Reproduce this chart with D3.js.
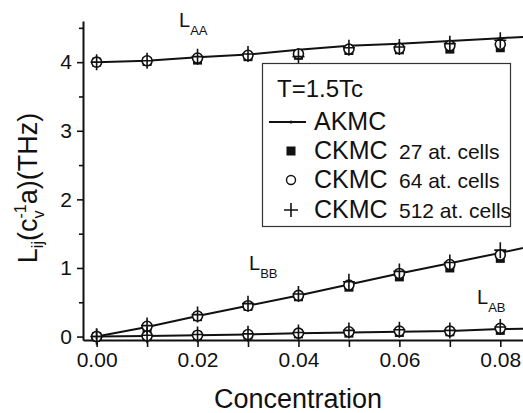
<!DOCTYPE html>
<html>
<head>
<meta charset="utf-8">
<script src="https://cdn.jsdelivr.net/npm/d3@7"></script>
<style>
  html, body { margin: 0; padding: 0; background: #fff; }
  svg { display: block; }
  text { font-family: "Liberation Sans", Arial, sans-serif; fill: #111; }
</style>
</head>
<body>
<svg id="chart" width="523" height="413"></svg>
<script>
// Vacancy concentration (x values)
const concentration = [0.00, 0.01, 0.02, 0.03, 0.04, 0.05, 0.06, 0.07, 0.08];
// AKMC curve runs one step further and is cut by the plot edge
const concentrationAkmc = [0.00, 0.01, 0.02, 0.03, 0.04, 0.05, 0.06, 0.07, 0.08, 0.09];

// L_AA
const laaAkmc   = [4.00, 4.02, 4.07, 4.11, 4.18, 4.24, 4.27, 4.31, 4.35, 4.39];
const laaCkmc27 = [4.00, 4.01, 4.03, 4.08, 4.10, 4.17, 4.18, 4.19, 4.21];
const laaCkmc64 = [4.00, 4.02, 4.06, 4.10, 4.12, 4.19, 4.20, 4.24, 4.26];
const laaCkmc512= [4.00, 4.02, 4.08, 4.12, 4.08, 4.21, 4.22, 4.27, 4.32];

// L_BB
const lbbAkmc   = [0.00, 0.14, 0.30, 0.45, 0.60, 0.76, 0.92, 1.07, 1.22, 1.38];
const lbbCkmc27 = [0.00, 0.13, 0.29, 0.44, 0.58, 0.72, 0.87, 1.00, 1.14];
const lbbCkmc64 = [0.00, 0.15, 0.30, 0.45, 0.60, 0.75, 0.92, 1.05, 1.19];
const lbbCkmc512= [0.00, 0.16, 0.32, 0.48, 0.62, 0.80, 0.95, 1.08, 1.26];

// L_AB
const labAkmc   = [0.00, 0.01, 0.02, 0.03, 0.05, 0.06, 0.07, 0.08, 0.11, 0.12];
const labCkmc27 = [0.00, 0.00, 0.01, 0.02, 0.04, 0.05, 0.06, 0.07, 0.09];
const labCkmc64 = [0.00, 0.01, 0.02, 0.03, 0.05, 0.07, 0.08, 0.08, 0.12];
const labCkmc512= [0.00, 0.02, 0.03, 0.04, 0.06, 0.09, 0.10, 0.09, 0.14];

const xTicks = [0.00, 0.01, 0.02, 0.03, 0.04, 0.05, 0.06, 0.07, 0.08];
const xTickLabels = ["0.00", "", "0.02", "", "0.04", "", "0.06", "", "0.08"];
const yTicks = [0, 0.5, 1, 1.5, 2, 2.5, 3, 3.5, 4, 4.5];
const yTickLabels = ["0", "", "1", "", "2", "", "3", "", "4", ""];

const legendTitle = "T=1.5Tc";
const legendEntries = [
  { name: "AKMC", extra: "", kind: "line" },
  { name: "CKMC", extra: "27 at. cells", kind: "square" },
  { name: "CKMC", extra: "64 at. cells", kind: "circle" },
  { name: "CKMC", extra: "512 at. cells", kind: "plus" }
];

const svg = d3.select("#chart");

const x = d3.scaleLinear().domain([-0.0027, 0.0845]).range([83, 523]);
const y = d3.scaleLinear().domain([-0.05, 4.6]).range([340, 21]);

const ink = "#111";

// ----- axes -----
const xAxis = d3.axisBottom(x)
  .tickValues(xTicks)
  .tickSize(7)
  .tickSizeOuter(0)
  .tickFormat((d, i) => xTickLabels[i]);

const gx = svg.append("g")
  .attr("transform", `translate(0,${y(-0.05)})`)
  .call(xAxis);
gx.select(".domain").attr("stroke", ink).attr("stroke-width", 2);
gx.selectAll(".tick line").attr("stroke", ink).attr("stroke-width", 1.6);
gx.selectAll(".tick text")
  .attr("y", 12)
  .attr("font-size", 21)
  .attr("font-family", "Liberation Sans, Arial, sans-serif")
  .attr("fill", ink);

const yAxis = d3.axisLeft(y)
  .tickValues(yTicks)
  .tickSize(6)
  .tickSizeOuter(0)
  .tickFormat((d, i) => yTickLabels[i]);

const gy = svg.append("g")
  .attr("transform", `translate(${x(-0.0027)},0)`)
  .call(yAxis);
gy.select(".domain").attr("stroke", ink).attr("stroke-width", 2);
gy.selectAll(".tick line")
  .attr("stroke", ink).attr("stroke-width", 1.6)
  .attr("x2", d => Number.isInteger(d) ? -6 : -4);
gy.selectAll(".tick text")
  .attr("x", -11)
  .attr("font-size", 21)
  .attr("font-family", "Liberation Sans, Arial, sans-serif")
  .attr("fill", ink);

// ----- axis titles -----
svg.append("text")
  .attr("x", 298).attr("y", 408)
  .attr("text-anchor", "middle")
  .attr("font-size", 27)
  .text("Concentration");

const yTitle = svg.append("text")
  .attr("transform", "translate(37,188) rotate(-90)")
  .attr("text-anchor", "middle")
  .attr("font-size", 27);
yTitle.append("tspan").text("L");
yTitle.append("tspan").attr("font-size", 16).attr("dy", 6).text("ij");
yTitle.append("tspan").attr("dy", -6).text("(c");
yTitle.append("tspan").attr("font-size", 16).attr("dy", 7).text("v");
yTitle.append("tspan").attr("font-size", 16).attr("dx", -8).attr("dy", -18).text("-1");
yTitle.append("tspan").attr("dy", 11).text("a)(THz)");

// ----- data -----
const plot = svg.append("g");

const line = d3.line()
  .x(d => x(d[0]))
  .y(d => y(d[1]));

const akmcSets = [laaAkmc, lbbAkmc, labAkmc];
akmcSets.forEach(vals => {
  const pts = concentrationAkmc.map((c, i) => [c, vals[i]]);
  plot.append("path")
    .datum(pts)
    .attr("d", line)
    .attr("fill", "none")
    .attr("stroke", ink)
    .attr("stroke-width", 2);
  plot.selectAll(null)
    .data(pts)
    .join("circle")
    .attr("cx", d => x(d[0]))
    .attr("cy", d => y(d[1]))
    .attr("r", 1.6)
    .attr("fill", ink);
});

function drawSquares(vals) {
  plot.selectAll(null)
    .data(concentration.map((c, i) => [c, vals[i]]))
    .join("rect")
    .attr("x", d => x(d[0]) - 4.5)
    .attr("y", d => y(d[1]) - 4.5)
    .attr("width", 9)
    .attr("height", 9)
    .attr("fill", ink);
}
function drawCircles(vals) {
  plot.selectAll(null)
    .data(concentration.map((c, i) => [c, vals[i]]))
    .join("circle")
    .attr("cx", d => x(d[0]))
    .attr("cy", d => y(d[1]))
    .attr("r", 5)
    .attr("fill", "#fff")
    .attr("stroke", ink)
    .attr("stroke-width", 1.6);
}
function drawPluses(vals) {
  plot.selectAll(null)
    .data(concentration.map((c, i) => [c, vals[i]]))
    .join("path")
    .attr("d", d => {
      const cx = x(d[0]), cy = y(d[1]);
      return `M${cx - 6},${cy}H${cx + 6}M${cx},${cy - 8}V${cy + 8}`;
    })
    .attr("fill", "none")
    .attr("stroke", ink)
    .attr("stroke-width", 1.6);
}

[laaCkmc27, lbbCkmc27, labCkmc27].forEach(drawSquares);
[laaCkmc64, lbbCkmc64, labCkmc64].forEach(drawCircles);
[laaCkmc512, lbbCkmc512, labCkmc512].forEach(drawPluses);

// ----- curve labels -----
function curveLabel(px, py, sub) {
  const t = svg.append("text").attr("x", px).attr("y", py).attr("font-size", 20);
  t.append("tspan").text("L");
  t.append("tspan").attr("font-size", 13).attr("dy", 8).text(sub);
}
curveLabel(179, 27, "AA");
curveLabel(249, 270, "BB");
curveLabel(477, 304, "AB");

// ----- legend -----
const lg = svg.append("g");
lg.append("rect")
  .attr("x", 262.5).attr("y", 63.5)
  .attr("width", 248).attr("height", 163)
  .attr("fill", "#fff")
  .attr("stroke", "#333")
  .attr("stroke-width", 1.2);

lg.append("text")
  .attr("x", 277).attr("y", 97)
  .attr("font-size", 24)
  .text(legendTitle);

const rowY = [130, 159, 188, 218];
legendEntries.forEach((e, i) => {
  const cy = rowY[i] - 8;
  const sx = 291;
  if (e.kind === "line") {
    lg.append("line").attr("x1", 269).attr("x2", 306).attr("y1", cy).attr("y2", cy)
      .attr("stroke", ink).attr("stroke-width", 2);
    lg.append("circle").attr("cx", sx).attr("cy", cy).attr("r", 1.6).attr("fill", ink);
  } else if (e.kind === "square") {
    lg.append("rect").attr("x", sx - 4.5).attr("y", cy - 4.5).attr("width", 9).attr("height", 9).attr("fill", ink);
  } else if (e.kind === "circle") {
    lg.append("circle").attr("cx", sx).attr("cy", cy).attr("r", 4.5)
      .attr("fill", "none").attr("stroke", ink).attr("stroke-width", 1.4);
  } else {
    lg.append("path").attr("d", `M${sx - 7},${cy}H${sx + 7}M${sx},${cy - 7}V${cy + 7}`)
      .attr("stroke", ink).attr("stroke-width", 1.6);
  }
  const t = lg.append("text").attr("x", 314).attr("y", rowY[i]).attr("font-size", 25);
  t.append("tspan").text(e.name);
  if (e.extra) {
    t.append("tspan").attr("x", 399).attr("font-size", 21).text(e.extra);
  }
});
</script>
</body>
</html>
